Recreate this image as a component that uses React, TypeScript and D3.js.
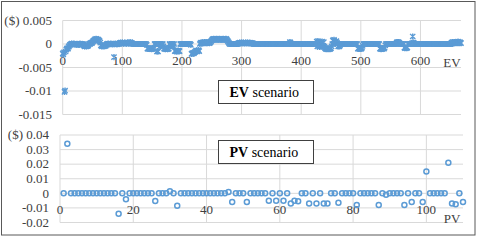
import { useEffect, useRef } from 'react';
import * as d3 from 'd3';

// EV scenario: value per run index, in thousandths of a dollar (0.001 $)
const evValuesMilli = [
  -2.0, -2.2, -1.8, -10.2, -9.9, -1.6, -1.2, -1.0, -0.9, -1.0, -0.6, -0.4, -0.2, -0.1, 0, 0.1, 0, -0.1, 0, 0.1,
  0, 0, -0.1, 0, -0.2, 0, 0, -0.2, 0, 0.1, 0, 0, -0.2, 0, 0, -0.1, -0.4, -0.5, -0.4, -0.4,
  -0.5, -0.4, -0.4, -0.3, 0, 0.1, 0, 0.2, 0.3, 0.2, 0.4, 0.6, 0.7, 0.8, 1.0, 0.9, 1.1, 1.0, 0.8, 1.0,
  0.9, 0.7, 0.6, 0.3, -0.3, -0.4, -0.5, -0.3, -0.4, -0.5, -0.4, -0.3, -0.4, -0.2, 0, 0, 0.1, 0, -0.1, 0,
  0, 0.1, 0, 0, -0.1, 0, -2.8, 0, 0.1, 0, 0, -0.1, 0, 0.1, 0, 0.1, 0.2, 0.3, 0.2, 0.2,
  0.3, 0.2, 0.1, 0.2, 0.3, 0.2, 0.2, 0.1, 0.2, 0.3, 0.2, 0.1, 0.2, 0.4, 0.3, 0.2, 0.2, 0.1, 0, 0,
  0, 0, 0, 0, 0, 0, 0, 0, 0, 0, 0, 0, 0, 0, 0, 0, 0, 0, 0, 0,
  0, -0.2, -1.0, -1.0, -1.0, -1.0, -0.9, -1.0, -1.0, -1.1, -1.0, -1.0, -1.0, -1.0, 0, 0, 0, 0, -1.6, -1.5,
  -1.6, 0, 0, 0, -0.4, 0, -0.3, 0, 0, -0.5, -1.0, -1.0, -1.1, -0.9, -1.0, -1.0, -1.1, -1.0, -1.0, 0,
  0, -0.4, 0, -0.3, 0, 0, -0.5, 0, -1.5, -1.4, -1.5, -1.6, -1.5, -1.5, -1.4, -1.5, -1.5, 0, 0, 0,
  0, 0, 0, 0, 0, 0, 0, 0, 0, 0, 0, 0, 0, 0, 0, -0.2, -2.1, -2.0, -2.0, -1.9,
  -2.0, -1.8, -1.7, -1.5, -1.5, -1.4, -1.5, -1.4, -1.3, -1.5, 0, 0.2, 0.3, 0.2, 0.3, 0.2, 0.3, 0.2, 0.4, 0.3,
  0.2, 0.3, 0.2, 0.3, 0.4, 0.3, 0.2, 0.3, 0.4, 0.6, 0.8, 1.0, 1.0, 1.1, 1.0, 0.9, 1.0, 1.0, 1.1, 1.0,
  1.0, 0.9, 1.0, 1.1, 1.0, 1.0, 0.9, 1.0, 1.0, 1.1, 1.0, 1.0, 0.9, 1.0, 1.1, 1.0, 0.8, 0.6, 0.4, 0.2,
  0, 0, 0, 0, 0, 0, 0, 0, 0, 0, 0, 0, 0, 0, 0.1, 0.2, 0.2, 0.3, 0.2, 0.2,
  0.3, 0.2, 0.2, 0.3, 0.2, 0.2, 0.2, 0.3, 0.2, 0.2, 0.3, 0.2, 0.2, 0.2, 0.3, 0.2, 0.2, 0.1, 0.2, 0.1,
  0.1, 0, 0, 0, 0, 0, 0, 0, 0, 0, 0, 0, 0, 0, 0, 0, 0, 0, 0, 0,
  0, 0, 0, 0, 0, 0, 0, 0, 0, 0, 0, 0, 0, 0, 0, 0, 0, 0, 0, 0,
  0, 0, 0, 0, 0, 0, 0, 0, 0, 0, 0, 0, 0, 0, 0, 0, 0, 0, 0, 0,
  0, 0.4, 0.3, 0, 0, 0, 0, 0, 0, 0, 0, 0, 0, 0, 0, 0, 0, 0, 0, 0,
  0, 0, 0, 0, 0, 0, 0, 0, 0, 0, 0, 0, 0, 0, 0, 0, 0, 0, 0, 0,
  0, 0, 0, 0, 0, 0, 0.5, -0.5, 0.6, -0.3, 0.4, -0.6, -0.5, 0.3, -0.4, 0.5, -0.3, -0.5, 0.4, -0.6,
  -0.9, -1.0, -1.1, -1.0, -1.0, -1.1, -1.0, -1.0, -1.1, -1.0, -0.9, -0.5, 0, 0.8, 0.6, 0.9, 0.5, 0, 0.4, 0.6,
  0.3, 0, -0.5, -0.4, -0.5, -0.3, 0, 0, 0, 0, 0, 0, 0, 0, 0, 0, 0, 0, 0, 0,
  0, 0, 0, 0, 0, 0, 0, 0, 0, 0, 0, 0, 0, 0, 0, -1.0, -1.0, -0.9, -1.0, -1.0,
  -1.0, -1.0, -0.8, -0.4, 0, 0, 0, 0, 0, 0, 0, 0, 0, 0, 0, 0, 0, 0, 0, 0,
  0, 0, 0, 0, 0, 0, 0, 0, 0, 0, 0, 0, -1.0, -1.0, -1.1, -1.0, -1.0, -1.0, -0.9, -1.0,
  -0.8, -0.3, 0, 0, 0, 0, 0, 0, 0, 0, 0, 0, 0, 0, 0, 0, 0, 0, 0, 0,
  0.3, 0.4, 0.3, 0.4, 0.3, 0.2, 0, 0, 0, 0, 0, 0, 0, -0.8, -0.9, -0.8, -0.8, -0.9, -0.7, 0,
  0, 0, 0, 0, 0, 0, 0.2, 1.6, 0.3, 0.2, 0, 0, 0, 0, 0, 0, 0, 0, 0, 0,
  0, 0, 0, 0, 0, 0, 0, 0, 0, 0, 0, 0, 0, 0, 0, 0, 0, 0, 0, 0,
  0, 0, 0, 0, 0, 0, 0, 0, 0, 0, 0, 0, 0, 0, 0, 0, 0, 0, 0, 0,
  0, 0, 0, 0, 0, 0, 0, 0, 0, 0, 0, 0, 0.3, 0.1, 0.4, 0.2, 0.3, 0.4, 0.2, 0.3,
  0.4, 0.2, 0.3, 0.5, 0.3, 0.2, 0.4, 0.3, 0.2,
];

// PV scenario: value per run 1..110, in dollars
const pvValues = [
  0, 0.034, 0, 0, 0, 0, 0, 0, 0, 0, 0, 0, 0, 0, 0, -0.014, 0, -0.004, 0, 0,
  0, 0, 0, 0, 0, -0.0053, 0, 0, 0, 0.0015, 0, -0.0085, 0, 0, 0, 0, 0, 0, 0, 0,
  0, 0, 0, 0, 0, 0.001, -0.006, 0, 0, 0, -0.006, 0, 0, 0, 0, 0, -0.005, 0, -0.005, 0,
  -0.005, 0, -0.007, -0.005, -0.0055, 0, 0, -0.007, 0, -0.007, 0, -0.007, -0.007, 0, 0, -0.0065, 0, 0, 0, 0,
  -0.008, 0, 0, 0, 0, 0, -0.008, 0, -0.001, 0, 0, 0, 0, -0.008, 0, -0.006, 0, 0, -0.006, 0.015,
  0, 0, 0, 0, 0, 0.021, -0.007, -0.0075, 0, -0.006,
];

const evXTicks = [0, 100, 200, 300, 400, 500, 600];
const evYTicks = [0.005, 0, -0.005, -0.01, -0.015];
const pvXTicks = [0, 20, 40, 60, 80, 100];
const pvYTicks = [0.04, 0.03, 0.02, 0.01, 0, -0.01, -0.02];

const BLUE = '#5B9BD5';
const GRID = '#D9D9D9';
const TEXT = '#404040';
const FONT = '"Liberation Serif", "Times New Roman", serif';
const FS = 13;

export default function App() {
  const svgRef = useRef<SVGSVGElement>(null);

  useEffect(() => {
    if (!svgRef.current) return;
    const svg = d3.select(svgRef.current);
    svg.selectAll('*').remove();

    // outer frame
    svg.append('rect')
      .attr('x', 1.5).attr('y', 1.5)
      .attr('width', 473.5).attr('height', 233.5)
      .attr('fill', '#fff')
      .attr('stroke', '#595959')
      .attr('stroke-width', 1);

    // ---------- EV chart ----------
    const evX = d3.scaleLinear().domain([0, 668]).range([62.7, 461]);
    const evY = d3.scaleLinear().domain([-0.015, 0.005]).range([114.5, 20.5]);
    const ev = svg.append('g');

    ev.selectAll('.hgrid').data(evYTicks).enter().append('line')
      .attr('x1', evX(0)).attr('x2', evX(668))
      .attr('y1', d => evY(d)).attr('y2', d => evY(d))
      .attr('stroke', GRID).attr('stroke-width', 1);
    ev.selectAll('.vgrid').data(evXTicks).enter().append('line')
      .attr('x1', d => evX(d)).attr('x2', d => evX(d))
      .attr('y1', evY(0.005)).attr('y2', evY(-0.015))
      .attr('stroke', GRID).attr('stroke-width', 1);

    ev.selectAll('.ylab').data(evYTicks).enter().append('text')
      .attr('x', 52).attr('y', d => evY(d) + 4.3)
      .attr('text-anchor', 'end')
      .attr('font-family', FONT).attr('font-size', FS).attr('fill', TEXT)
      .text(d => (d === 0.005 ? '($) 0.005' : d3.format('')(d).replace('−', '-')));

    ev.selectAll('.xlab').data(evXTicks).enter().append('text')
      .attr('x', d => evX(d)).attr('y', 65)
      .attr('text-anchor', 'middle')
      .attr('font-family', FONT).attr('font-size', FS).attr('fill', TEXT)
      .text(d => String(d));
    ev.append('text')
      .attr('x', 452).attr('y', 66.5)
      .attr('text-anchor', 'middle')
      .attr('font-family', FONT).attr('font-size', FS).attr('fill', TEXT)
      .text('EV');

    const evPoints = evValuesMilli.map((v, i) => ({ x: i, y: v / 1000 }));
    const s = 2.6;
    ev.selectAll('.evpt').data(evPoints).enter().append('path')
      .attr('transform', d => `translate(${evX(d.x)},${evY(d.y)})`)
      .attr('d', `M${-s},${-s}L${s},${s}M${-s},${s}L${s},${-s}M0,${-s - 0.5}L0,${s + 0.5}`)
      .attr('stroke', BLUE).attr('stroke-width', 1.4).attr('fill', 'none');

    // ---------- PV chart ----------
    const pvX = d3.scaleLinear().domain([0, 110]).range([60, 463]);
    const pvY = d3.scaleLinear().domain([-0.02, 0.04]).range([222.5, 135]);
    const pv = svg.append('g');

    pv.selectAll('.hgrid').data(pvYTicks).enter().append('line')
      .attr('x1', pvX(0)).attr('x2', pvX(110))
      .attr('y1', d => pvY(d)).attr('y2', d => pvY(d))
      .attr('stroke', GRID).attr('stroke-width', 1);
    pv.selectAll('.vgrid').data(pvXTicks).enter().append('line')
      .attr('x1', d => pvX(d)).attr('x2', d => pvX(d))
      .attr('y1', pvY(0.04)).attr('y2', pvY(-0.02))
      .attr('stroke', GRID).attr('stroke-width', 1);

    pv.selectAll('.ylab').data(pvYTicks).enter().append('text')
      .attr('x', 49).attr('y', d => pvY(d) + 4.3)
      .attr('text-anchor', 'end')
      .attr('font-family', FONT).attr('font-size', FS).attr('fill', TEXT)
      .text(d => (d === 0.04 ? '($) 0.04' : d3.format('')(d).replace('−', '-')));

    pv.selectAll('.xlab').data(pvXTicks).enter().append('text')
      .attr('x', d => pvX(d)).attr('y', 214)
      .attr('text-anchor', 'middle')
      .attr('font-family', FONT).attr('font-size', FS).attr('fill', TEXT)
      .text(d => String(d));
    pv.append('text')
      .attr('x', 452).attr('y', 222.5)
      .attr('text-anchor', 'middle')
      .attr('font-family', FONT).attr('font-size', FS).attr('fill', TEXT)
      .text('PV');

    const pvPoints = pvValues.map((v, i) => ({ x: i + 1, y: v }));
    pv.selectAll('.pvpt').data(pvPoints).enter().append('circle')
      .attr('cx', d => pvX(d.x)).attr('cy', d => pvY(d.y))
      .attr('r', 2.5)
      .attr('fill', 'none')
      .attr('stroke', BLUE).attr('stroke-width', 1.5);

    // ---------- scenario boxes ----------
    const boxes = [
      { y: 80, bold: 'EV' },
      { y: 140, bold: 'PV' },
    ];
    boxes.forEach(b => {
      svg.append('rect')
        .attr('x', 218.5).attr('y', b.y + 0.5)
        .attr('width', 95).attr('height', 23)
        .attr('fill', '#fff').attr('stroke', '#404040').attr('stroke-width', 1);
      const t = svg.append('text')
        .attr('x', 229.5).attr('y', b.y + 16.5)
        .attr('font-family', FONT).attr('font-size', 14).attr('fill', '#000');
      t.append('tspan').attr('font-weight', 'bold').text(b.bold);
      t.append('tspan').text(' scenario');
    });
  }, []);

  return (
    <svg
      ref={svgRef}
      width={477}
      height={240}
      style={{ position: 'absolute', left: 0, top: 0, background: '#fff' }}
    />
  );
}
